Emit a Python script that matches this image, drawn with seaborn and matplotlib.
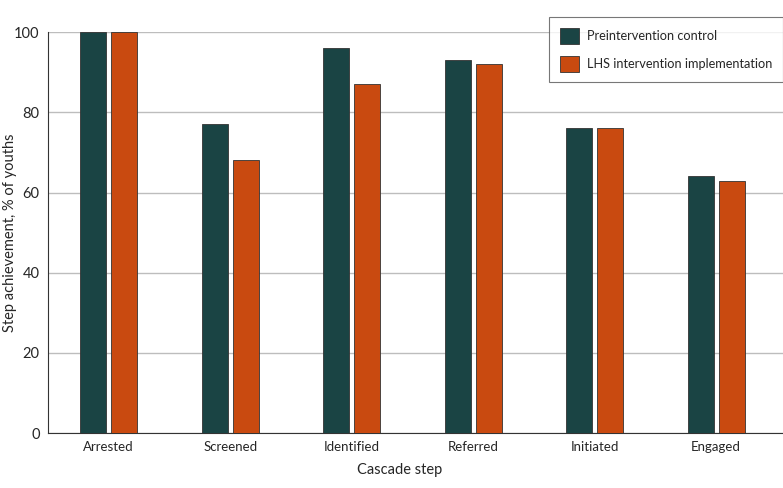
import pandas as pd
import numpy as np
import seaborn as sns
import matplotlib.pyplot as plt

steps = ["Arrested", "Screened", "Identified", "Referred", "Initiated", "Engaged"]
groups = ["Preintervention control", "LHS intervention implementation"]
control = [100, 77, 96, 93, 76, 64]
lhs = [100, 68, 87, 92, 76, 63]

df = pd.DataFrame({
    "step": steps * 2,
    "group": [groups[0]] * len(steps) + [groups[1]] * len(steps),
    "value": control + lhs,
})

sns.set_style("white")
plt.rcParams["font.family"] = ["Lato", "DejaVu Sans"]

fig = plt.figure(figsize=(7.83, 4.88), dpi=100)
ax = fig.add_axes([0.0613, 0.1127, 0.9387, 0.8213])

sns.barplot(data=df, x="step", y="value", hue="group", order=steps, hue_order=groups,
            palette=["#1a4444", "#c94a10"], saturation=1, width=0.51, gap=0.16,
            edgecolor="#333333", linewidth=0.6, ax=ax, zorder=3)

ax.set_ylim(0, 100)
ax.set_xlim(-0.5, 5.55)
ax.set_yticks([0, 20, 40, 60, 80, 100])
ax.yaxis.grid(True, color="#bdbdbd", linewidth=1, zorder=0)
ax.set_axisbelow(True)
for s in ["top", "right"]:
    ax.spines[s].set_visible(False)
for s in ["left", "bottom"]:
    ax.spines[s].set_color("#333333")
    ax.spines[s].set_linewidth(0.8)
ax.tick_params(axis="y", direction="out", length=4, width=0.8, color="#333333",
               labelsize=10.5, pad=2)
ax.tick_params(axis="x", length=0, labelsize=9.5, pad=6)
ax.set_xlabel("Cascade step", fontsize=10.5)
ax.xaxis.set_label_coords(0.479, -0.075)
ax.set_ylabel("Step achievement, % of youths", fontsize=10.5)
ax.yaxis.set_label_coords(-0.042, 0.5)

leg = ax.legend(loc="upper right", bbox_to_anchor=(1.0, 1.037), borderaxespad=0,
                frameon=True, fancybox=False, edgecolor="#555555", fontsize=9.2,
                handlelength=1.5, handleheight=1.5, handletextpad=0.6,
                borderpad=0.85, labelspacing=0.95)
leg.get_frame().set_linewidth(0.8)

fig.savefig("out.png", dpi=100)
